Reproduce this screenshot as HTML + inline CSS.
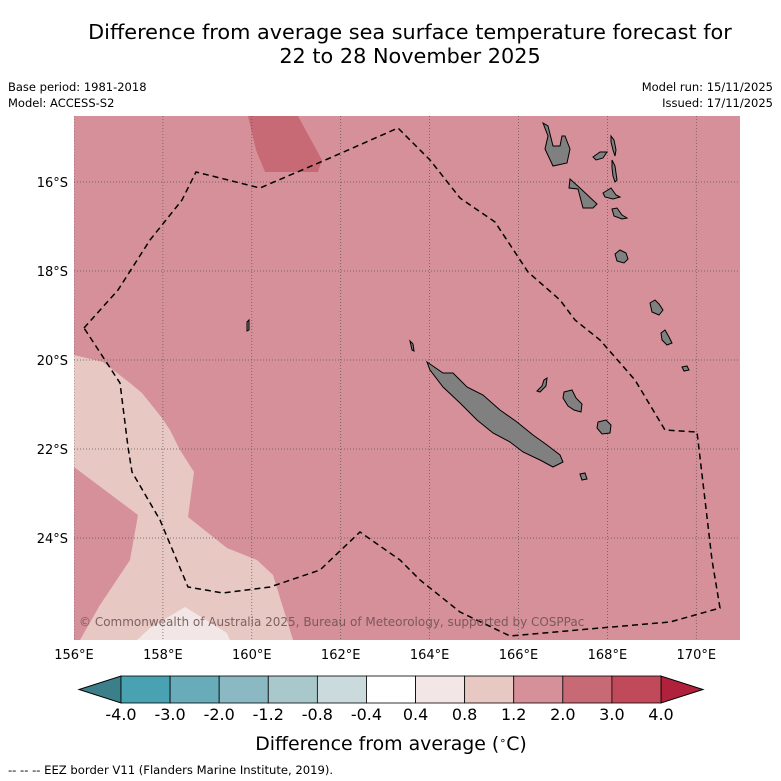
<!DOCTYPE html>
<html><head><meta charset="utf-8"><style>
body{margin:0;background:#fff;font-family:"Liberation Sans","DejaVu Sans",sans-serif}
svg{display:block}
</style></head><body>
<svg width="781" height="781" viewBox="0 0 781 781" xmlns="http://www.w3.org/2000/svg" font-family="DejaVu Sans, Liberation Sans, sans-serif">
<text x="410" y="39" font-size="20.8" text-anchor="middle">Difference from average sea surface temperature forecast for</text>
<text x="410" y="63" font-size="20.8" text-anchor="middle">22 to 28 November 2025</text>
<text x="8" y="91" font-size="11.5">Base period: 1981-2018</text>
<text x="8" y="107" font-size="11.5">Model: ACCESS-S2</text>
<text x="773" y="91" font-size="11.5" text-anchor="end">Model run: 15/11/2025</text>
<text x="773" y="107" font-size="11.5" text-anchor="end">Issued: 17/11/2025</text>
<defs><clipPath id="mapclip"><rect x="74" y="116" width="666" height="524"/></clipPath></defs>
<g id="map" clip-path="url(#mapclip)">
<rect x="74" y="116" width="666" height="524" fill="#d6909a"/>
<polygon fill="#e8c8c3" points="74,355 103,362 130,383 142,393 162,418 170,430 180,450 194,472 188,517 227,548 257,560 273,575 293,640 80,640 100,605 130,560 138,515 74,467"/>
<polygon fill="#f2e6e6" points="137,640 150,628 185,607 227,633 230,640"/>
<polygon fill="#c86a76" points="248,116 256,150 265,172 318,172 322,160 298,116"/>
<g id="grid" stroke="#555" stroke-width="0.7" stroke-dasharray="1,2"></g>
<g fill="#808080" stroke="#000" stroke-width="1">
<polygon points="427,362 443,373 453,373 467,387 483,395 500,410 517,422 533,435 547,445 560,455 563,462 553,467 540,460 523,452 510,442 493,433 477,420 460,403 443,387 430,370"/>
<polygon points="564,392 572,390 576,398 582,404 581,412 574,410 568,406 563,398"/>
<polygon points="598,422 606,420 611,425 610,433 602,434 597,428"/>
<polygon points="537,391 542,386 544,380 547,378 546,386 540,392"/>
<polygon points="580,474 585,473 587,479 582,480"/>
<polygon points="543,123 548,136 545,149 553,166 567,163 570,149 565,136 562,136 560,146 553,146 548,126"/>
<polygon points="570,179 580,188 597,204 593,208 583,208 578,189 569,188"/>
<polygon points="593,157 600,152 607,152 603,158 596,160"/>
<polygon points="611,136 614,140 616,150 615,156 613,150 611,142"/>
<polygon points="612,160 615,166 617,180 615,182 613,176 612,168"/>
<polygon points="603,193 611,188 616,195 620,197 613,199 605,197"/>
<polygon points="612,209 617,208 622,215 627,218 622,219 614,216"/>
<polygon points="615,254 620,250 626,253 628,259 624,263 617,261"/>
<polygon points="650,303 655,300 659,304 663,310 659,315 652,312"/>
<polygon points="661,333 665,330 669,337 672,343 667,345 662,340"/>
<polygon points="682,367 687,366 689,370 684,371"/>
<polygon points="247,322 249,320 249,330 247,331"/>
<polygon points="410,341 413,344 414,351 412,350"/>
</g>
<polyline fill="none" stroke="#000" stroke-width="1.5" stroke-dasharray="6,4" points="84,328 118,290 150,240 182,200 196,172 260,188 330,158 398,128 430,160 460,198 495,222 528,272 560,300 575,320 600,340 635,380 665,430 697,432 705,500 712,560 720,608 670,622 600,628 510,636 460,612 420,580 400,560 360,532 320,570 270,587 223,593 188,587 160,520 132,472 128,447 120,383 84,328"/>
<text x="79" y="626" font-size="12" fill="#6a5050" fill-opacity="0.85">© Commonwealth of Australia 2025, Bureau of Meteorology, supported by COSPPac</text>
</g>
<g id="ticks" font-size="13"></g>
<g id="cbar"></g>
<text x="391" y="750" font-size="18.9" text-anchor="middle">Difference from average (<tspan baseline-shift="super" font-size="11">∘</tspan>C)</text>
<text x="8" y="774" font-size="11.6">--  --  -- EEZ border V11 (Flanders Marine Institute, 2019).</text>
</svg>
<script>
const lonTicks=[156,158,160,162,164,166,168,170];
const latTicks=[16,18,20,22,24];
const cbLevels=["-4.0","-3.0","-2.0","-1.2","-0.8","-0.4","0.4","0.8","1.2","2.0","3.0","4.0"];
const cbColors=["#48a2b2","#68abb9","#8ab8c3","#a9c8cc","#cbdadc","#ffffff","#f2e6e6","#e8c8c3","#d6909a","#c86a76","#c04a5a"];
const ns="http://www.w3.org/2000/svg";
function xLon(l){return 74+(l-156)*44.45;}
function yLat(s){return 182+(s-16)*44.5;}
function mk(t,a,p){const e=document.createElementNS(ns,t);for(const k in a)e.setAttribute(k,a[k]);p.appendChild(e);return e;}
const grid=document.getElementById('grid'),ticks=document.getElementById('ticks');
lonTicks.forEach(l=>{
 const x=xLon(l);
 const g=mk('line',{x1:x,x2:x,y1:116,y2:640},grid);
 
 
 const t=mk('text',{x:x,y:659,'text-anchor':'middle'},ticks);t.textContent=l+'°E';
 
 
});
latTicks.forEach(s=>{
 const y=yLat(s);
 const g=mk('line',{x1:74,x2:740,y1:y,y2:y},grid);
 
 
 const t=mk('text',{x:68,y:y+5,'text-anchor':'end'},ticks);t.textContent=s+'°S';
 
 
});
const cb=document.getElementById('cbar');
const x0=121,x1=661,y0=676,y1=703,w=(x1-x0)/cbColors.length;
const le=mk('polygon',{points:`${x0},${y0} ${x0},${y1} 79,${(y0+y1)/2}`,fill:'#3a7f8a',stroke:'#000','stroke-width':1},cb);


const re=mk('polygon',{points:`${x1},${y0} ${x1},${y1} 703,${(y0+y1)/2}`,fill:'#b0213c',stroke:'#000','stroke-width':1},cb);


cbColors.forEach((c,i)=>{
 const r=mk('rect',{x:x0+i*w,y:y0,width:w,height:y1-y0,fill:c,stroke:'#000','stroke-width':0.8},cb);
 
 
});
cbLevels.forEach((v,i)=>{
 const t=mk('text',{x:x0+i*w,y:720,'text-anchor':'middle','font-size':16},cb);t.textContent=v;
 
 
});
</script>
</body></html>
